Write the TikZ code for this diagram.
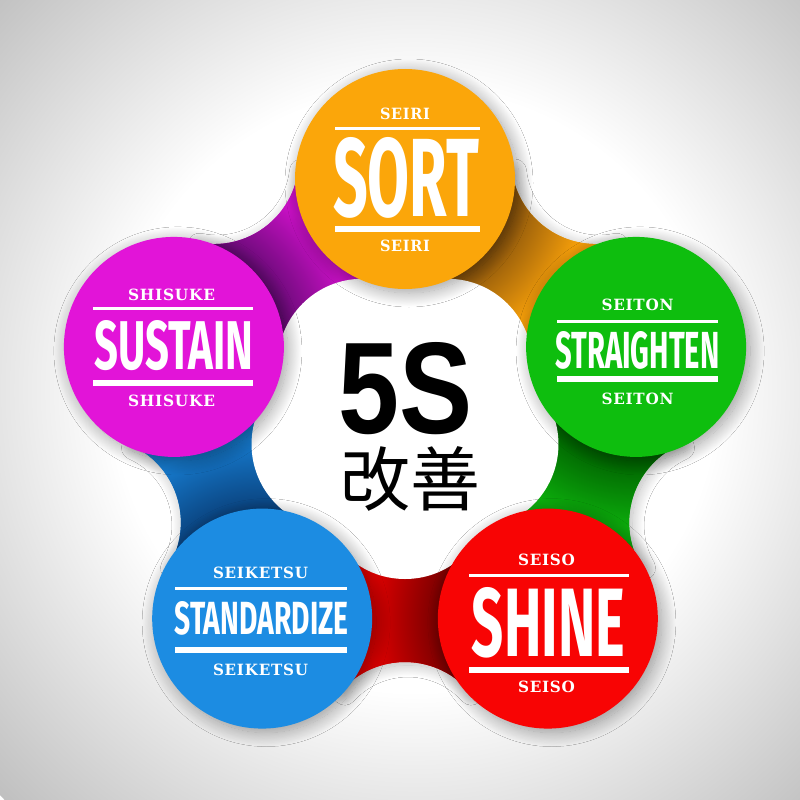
\documentclass[tikz,border=0pt]{standalone}
\usepackage{fontspec}
\usepackage{graphicx}
\usetikzlibrary{calc,shadows.blur}
\newfontfamily\bigfont{Fira Sans}
\newfontfamily\slabfont[LetterSpace=5]{DejaVu Serif}
\newfontfamily\fivefont{Liberation Sans}
\newfontfamily\cjkfont{Noto Sans CJK JP}
\newcommand{\smallab}[2]{\resizebox{#1pt}{11.5pt}{\slabfont\bfseries #2}}
\newcommand{\biglab}[3]{\resizebox{#1pt}{#2pt}{\bigfont\bfseries #3}}

\definecolor{bggray}{RGB}{192,192,192}
\definecolor{cOr}{RGB}{251,166,10}
\definecolor{cGr}{RGB}{14,190,14}
\definecolor{cRe}{RGB}{248,4,4}
\definecolor{cBl}{RGB}{28,140,226}
\definecolor{cMa}{RGB}{226,20,216}
\definecolor{bandO}{RGB}{240,155,10}
\definecolor{bandOdk}{RGB}{135,82,12}
\definecolor{bandG}{RGB}{12,172,12}
\definecolor{bandGdk}{RGB}{0,95,0}
\definecolor{bandR}{RGB}{225,0,0}
\definecolor{bandRdk}{RGB}{120,0,0}
\definecolor{bandB}{RGB}{22,122,205}
\definecolor{bandBdk}{RGB}{10,66,125}
\definecolor{bandM}{RGB}{200,16,196}
\definecolor{bandMdk}{RGB}{100,10,115}

\pgfdeclareradialshading{bgsh}{\pgfpoint{0bp}{0bp}}{color(0bp)=(white); color(13bp)=(white); color(25bp)=(bggray); color(50bp)=(bggray)}
\pgfdeclareradialshading{shO}{\pgfpoint{0bp}{0bp}}{color(0bp)=(bandOdk); color(11bp)=(bandOdk); color(18bp)=(bandO); color(50bp)=(bandO)}
\pgfdeclareradialshading{shG}{\pgfpoint{0bp}{0bp}}{color(0bp)=(bandGdk); color(11bp)=(bandGdk); color(18bp)=(bandG); color(50bp)=(bandG)}
\pgfdeclareradialshading{shR}{\pgfpoint{0bp}{0bp}}{color(0bp)=(bandRdk); color(11bp)=(bandRdk); color(18bp)=(bandR); color(50bp)=(bandR)}
\pgfdeclareradialshading{shB}{\pgfpoint{0bp}{0bp}}{color(0bp)=(bandBdk); color(11bp)=(bandBdk); color(18bp)=(bandB); color(50bp)=(bandB)}
\pgfdeclareradialshading{shM}{\pgfpoint{0bp}{0bp}}{color(0bp)=(bandMdk); color(11bp)=(bandMdk); color(18bp)=(bandM); color(50bp)=(bandM)}

\tikzset{
  petal/.style={circle, minimum size=220pt, inner sep=0pt,
    blur shadow={shadow xshift=4pt, shadow yshift=-4pt, shadow blur radius=14pt, shadow blur steps=24, shadow opacity=38}},
  bandshadow/.style={blur shadow={shadow xshift=3pt, shadow yshift=-3pt, shadow blur radius=12pt, shadow blur steps=20, shadow opacity=28}},
  lab/.style={inner sep=0pt, text=white},
  thinrule/.style={white, line width=3pt},
  thickrule/.style={white, line width=6pt},
}

\begin{document}
\begin{tikzpicture}[x=1pt, y=-1pt]
\useasboundingbox (0,0) rectangle (800,800);
% background
\begin{scope}
  \clip (0,0) rectangle (800,800);
  \shade[shading=bgsh] (415,390) circle (580);
\end{scope}

\coordinate (O) at (405,422);
\foreach \k/\a in {0/-90,1/-18,2/54,3/126,4/198}{
  \coordinate (C\k) at ($(O)+(\a:243)$);
  \coordinate (M\k) at ($(O)+(\a+36:325)$);
  \coordinate (B\k) at ($(O)+(\a+36:72)$);
}

% shadows of the bands on the background
\foreach \k/\a in {0/-90,1/-18,2/54,3/126,4/198}{
  \pgfmathtruncatemacro{\n}{mod(\k+1,5)}
  \pgfmathsetmacro{\s}{\a+264}
  \pgfmathsetmacro{\e}{\a+168}
  \path[bandshadow] (O) -- (C\k) -- ($(M\k)+(\s:85)$) arc[start angle=\s, end angle=\e, radius=85] -- (C\n) -- cycle;
}

% bands
\foreach \k/\a/\sh/\bc in {0/-90/shO/bandO,1/-18/shG/bandG,2/54/shR/bandR,3/126/shB/bandB,4/198/shM/bandM}{
  \pgfmathtruncatemacro{\n}{mod(\k+1,5)}
  \pgfmathsetmacro{\s}{\a+264}
  \pgfmathsetmacro{\e}{\a+168}
  \begin{scope}
    \clip (O) -- (C\k) -- ($(M\k)+(\s:85)$) arc[start angle=\s, end angle=\e, radius=85] -- (C\n) -- cycle;
    \fill[\bc] (O) circle (400);
    \shade[shading=\sh] (C\k) circle (250);
  \end{scope}
}

% central white blob
\fill[white] (O) circle (138) (B0) circle (85) (B1) circle (85) (B2) circle (85) (B3) circle (85) (B4) circle (85);

% circles
\node[petal, fill=cOr] (sort) at (C0) {};
\node[petal, fill=cGr] (straighten) at (C1) {};
\node[petal, fill=cRe] (shine) at (C2) {};
\node[petal, fill=cBl] (standardize) at (C3) {};
\node[petal, fill=cMa] (sustain) at (C4) {};

% SORT
\node[lab] (sortA) at (405,114) {\smallab{50}{SEIRI}};
\draw[thinrule] (335,128.5) -- (480,128.5);
\node[lab] (sortB) at (406,177.5) {\biglab{146}{79}{SORT}};
\draw[thickrule] (335,228.5) -- (480,228.5);
\node[lab] (sortC) at (405,246) {\smallab{50}{SEIRI}};

% STRAIGHTEN
\node[lab] (strA) at (637.5,305) {\smallab{72}{SEITON}};
\draw[thinrule] (557,321.5) -- (718,321.5);
\node[lab] (strB) at (637.5,350) {\biglab{164}{37}{STRAIGHTEN}};
\draw[thickrule] (557,378.5) -- (718,378.5);
\node[lab] (strC) at (637.5,398.5) {\smallab{72}{SEITON}};

% SHINE
\node[lab] (shiA) at (546.5,560) {\smallab{57}{SEISO}};
\draw[thinrule] (469,575.5) -- (629,575.5);
\node[lab] (shiB) at (548.5,622.5) {\biglab{153}{69}{SHINE}};
\draw[thickrule] (469,670) -- (629,670);
\node[lab] (shiC) at (546.5,686.5) {\smallab{57}{SEISO}};

% STANDARDIZE
\node[lab] (staA) at (260.5,572.5) {\smallab{95}{SEIKETSU}};
\draw[thinrule] (175,588.5) -- (347,588.5);
\node[lab] (staB) at (261.5,618.5) {\biglab{174}{33}{STANDARDIZE}};
\draw[thickrule] (175,650) -- (347,650);
\node[lab] (staC) at (260.5,669.5) {\smallab{95}{SEIKETSU}};

% SUSTAIN
\node[lab] (susA) at (171.5,294.5) {\smallab{87}{SHISUKE}};
\draw[thinrule] (93,308.5) -- (253,308.5);
\node[lab] (susB) at (174,345.5) {\biglab{159}{49}{SUSTAIN}};
\draw[thickrule] (93,383) -- (253,383);
\node[lab] (susC) at (171.5,400.5) {\smallab{87}{SHISUKE}};

% centre
\node[inner sep=0pt] (fives) at (406,388.5) {\resizebox{134pt}{91pt}{\fivefont\bfseries 5S}};
\node[inner sep=0pt] (kaizen) at (410,479) {\fontsize{70pt}{70pt}\selectfont\cjkfont 改善};
\end{tikzpicture}
\end{document}
